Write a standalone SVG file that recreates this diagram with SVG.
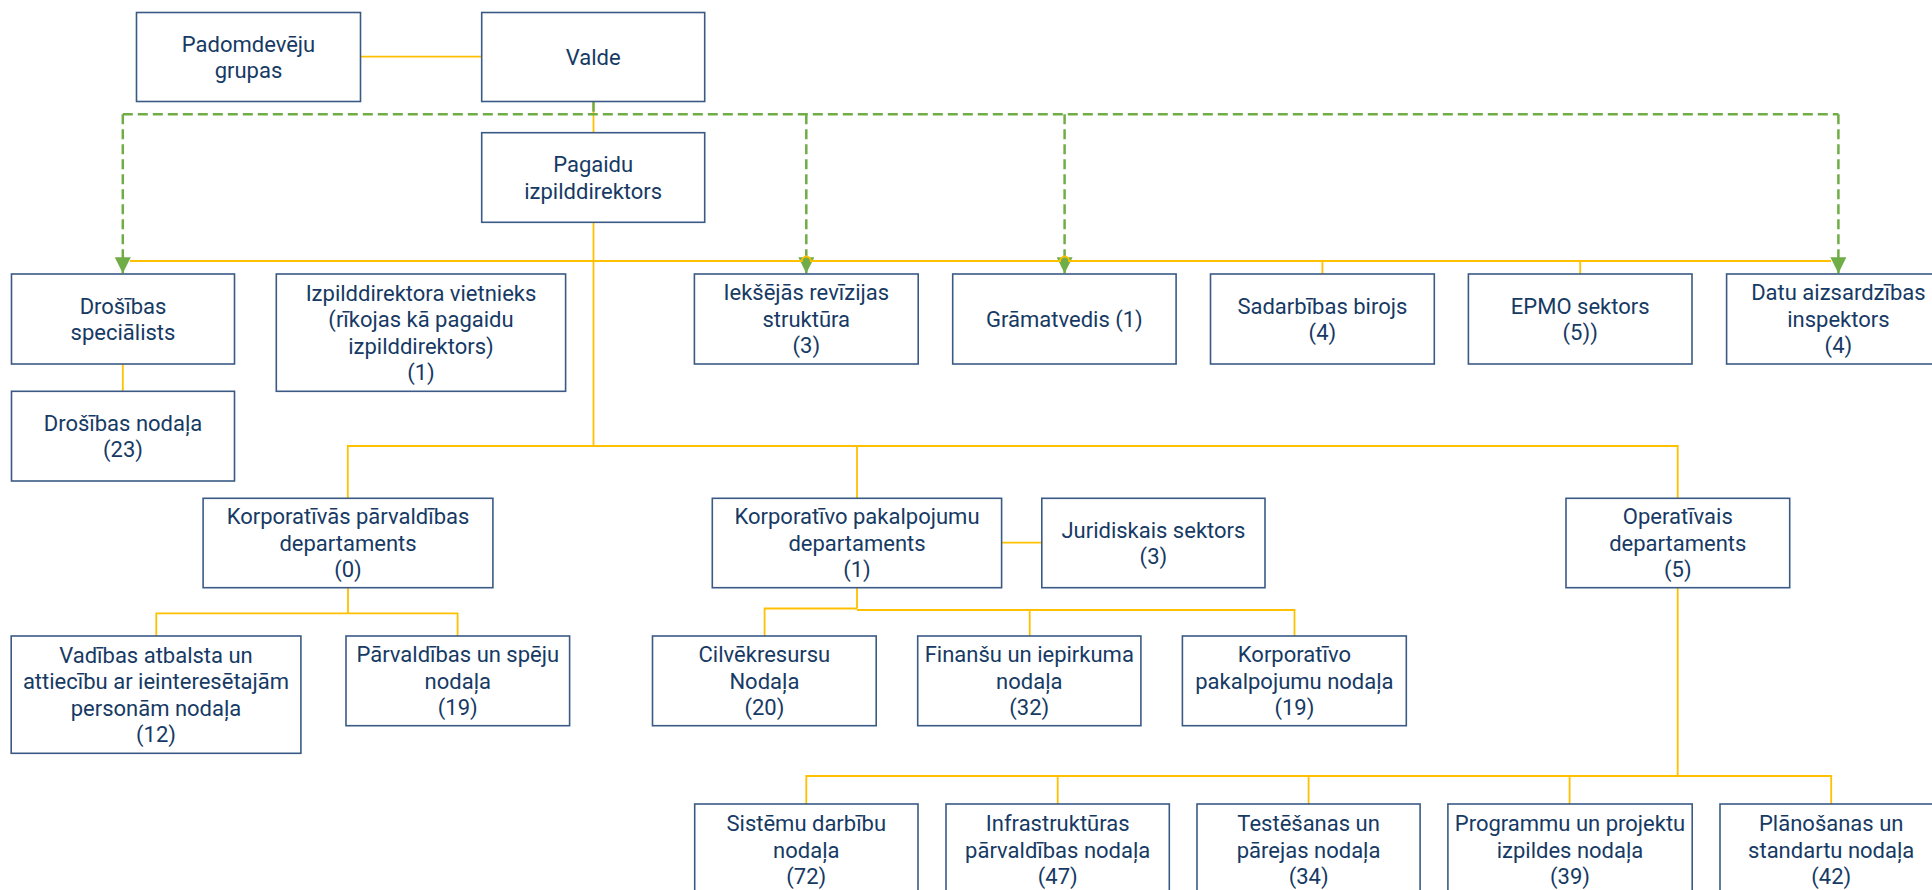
<svg xmlns="http://www.w3.org/2000/svg" width="1932" height="890" viewBox="0 0 1932 890">
<style>
.box{fill:#ffffff;stroke:#3A5A85;stroke-width:1.6}
.t{font-family:Roboto,"Liberation Sans",sans-serif;font-size:22px;fill:#163A64;text-anchor:middle}
.y{fill:none;stroke:#FFC000;stroke-width:1.8}
.g{fill:none;stroke:#70AD47;stroke-width:2.5;stroke-dasharray:10 5}
</style>
<defs>
<marker id="arr" markerUnits="userSpaceOnUse" viewBox="0 0 16 16" markerWidth="16" markerHeight="16" refX="16" refY="8" orient="auto">
<path d="M0,0 L16,8 L0,16 z" fill="#70AD47"/>
</marker>
</defs>
<rect width="1932" height="890" fill="#ffffff"/>
<g id="connectors">
<path class="y" d="M360.3,56.7 H481.7"/>
<path class="y" d="M593.5,101.7 V132.7"/>
<path class="y" d="M593.5,222.3 V446"/>
<path class="y" d="M1322.4,261 V274 M1580.2,261 V274"/>
<path class="y" d="M122.8,364 V391.3"/>
<path class="y" d="M347.8,498.3 V446 H1677.7 V498.3 M857,446 V498.3"/>
<path class="y" d="M348,587.7 V613.3 M156.3,636 V613.3 H457.6 V636"/>
<path class="y" d="M1001.6,542.7 H1041.8"/>
<path class="y" d="M857,587.7 V608.5 M764.6,636 V608.5 H857 M857,610 H1294.5 V636 M1029.7,610 V636"/>
<path class="y" d="M1677.7,587.7 V776 M806.3,804 V776 H1831.2 V804 M1057.7,776 V804 M1308.6,776 V804 M1569.6,776 V804"/>
<path class="g" d="M593.5,101.7 V114.3"/>
<path class="g" d="M122.8,114.3 H1838.4"/>
<path class="g" d="M122.8,114.3 V273.3" marker-end="url(#arr)"/>
<path class="g" d="M806.3,114.3 V273.3" marker-end="url(#arr)"/>
<path class="g" d="M1064.6,114.3 V273.3" marker-end="url(#arr)"/>
<path class="g" d="M1838.4,114.3 V273.3" marker-end="url(#arr)"/>
<path class="y" d="M130,261 H801.8 A4.5,4.5 0 0 1 810.8,261 H1060.1 A4.5,4.5 0 0 1 1069.1,261 H1831"/>
</g>
<g id="n-padomdeveju"><rect class="box" x="136.5" y="12.5" width="224" height="89"/><text class="t" x="248.5" y="51.5"><tspan x="248.5">Padomdevēju</tspan><tspan x="248.5" dy="26.5">grupas</tspan></text></g>
<g id="n-valde"><rect class="box" x="481.7" y="12.5" width="223" height="89"/><text class="t" x="593.2" y="64.8">Valde</text></g>
<g id="n-pagaidu"><rect class="box" x="481.7" y="132.7" width="223" height="89.6"/><text class="t" x="593.2" y="172"><tspan x="593.2">Pagaidu</tspan><tspan x="593.2" dy="26.5">izpilddirektors</tspan></text></g>
<g id="n-drosibas-spec"><rect class="box" x="11.5" y="274" width="223" height="90"/><text class="t" x="123" y="313.5"><tspan x="123">Drošības</tspan><tspan x="123" dy="26.5">speciālists</tspan></text></g>
<g id="n-vietnieks"><rect class="box" x="276.3" y="274" width="289.3" height="117.3"/><text class="t" x="421" y="300.7"><tspan x="421">Izpilddirektora vietnieks</tspan><tspan x="421" dy="26.5">(rīkojas kā pagaidu</tspan><tspan x="421" dy="26.5">izpilddirektors)</tspan><tspan x="421" dy="26.5">(1)</tspan></text></g>
<g id="n-revizija"><rect class="box" x="694.4" y="274" width="223.8" height="90"/><text class="t" x="806.3" y="300.3"><tspan x="806.3">Iekšējās revīzijas</tspan><tspan x="806.3" dy="26.5">struktūra</tspan><tspan x="806.3" dy="26.5">(3)</tspan></text></g>
<g id="n-gramatvedis"><rect class="box" x="952.7" y="274" width="223.4" height="90"/><text class="t" x="1064.4" y="326.8">Grāmatvedis (1)</text></g>
<g id="n-sadarbibas"><rect class="box" x="1210.5" y="274" width="223.8" height="90"/><text class="t" x="1322.4" y="313.5"><tspan x="1322.4">Sadarbības birojs</tspan><tspan x="1322.4" dy="26.5">(4)</tspan></text></g>
<g id="n-epmo"><rect class="box" x="1468.4" y="274" width="223.6" height="90"/><text class="t" x="1580.2" y="313.5"><tspan x="1580.2">EPMO sektors</tspan><tspan x="1580.2" dy="26.5">(5))</tspan></text></g>
<g id="n-datu"><rect class="box" x="1726.6" y="274" width="223.6" height="90"/><text class="t" x="1838.4" y="300.3"><tspan x="1838.4">Datu aizsardzības</tspan><tspan x="1838.4" dy="26.5">inspektors</tspan><tspan x="1838.4" dy="26.5">(4)</tspan></text></g>
<g id="n-drosibas-nodala"><rect class="box" x="11.5" y="391.3" width="223" height="89.7"/><text class="t" x="123" y="430.7"><tspan x="123">Drošības nodaļa</tspan><tspan x="123" dy="26.5">(23)</tspan></text></g>
<g id="n-korp-parv"><rect class="box" x="203.1" y="498.3" width="289.8" height="89.4"/><text class="t" x="348" y="524.3"><tspan x="348">Korporatīvās pārvaldības</tspan><tspan x="348" dy="26.5">departaments</tspan><tspan x="348" dy="26.5">(0)</tspan></text></g>
<g id="n-korp-pak"><rect class="box" x="712.3" y="498.3" width="289.3" height="89.4"/><text class="t" x="857" y="524.3"><tspan x="857">Korporatīvo pakalpojumu</tspan><tspan x="857" dy="26.5">departaments</tspan><tspan x="857" dy="26.5">(1)</tspan></text></g>
<g id="n-juridiskais"><rect class="box" x="1041.8" y="498.3" width="223.2" height="89.4"/><text class="t" x="1153.4" y="537.5"><tspan x="1153.4">Juridiskais sektors</tspan><tspan x="1153.4" dy="26.5">(3)</tspan></text></g>
<g id="n-operativais"><rect class="box" x="1566" y="498.3" width="223.7" height="89.4"/><text class="t" x="1677.8" y="524.3"><tspan x="1677.8">Operatīvais</tspan><tspan x="1677.8" dy="26.5">departaments</tspan><tspan x="1677.8" dy="26.5">(5)</tspan></text></g>
<g id="n-vadibas"><rect class="box" x="11.2" y="636" width="289.7" height="117.3"/><text class="t" x="156" y="662.7"><tspan x="156">Vadības atbalsta un</tspan><tspan x="156" dy="26.5">attiecību ar ieinteresētajām</tspan><tspan x="156" dy="26.5">personām nodaļa</tspan><tspan x="156" dy="26.5">(12)</tspan></text></g>
<g id="n-parvaldibas"><rect class="box" x="346" y="636" width="223.6" height="89.7"/><text class="t" x="457.8" y="662.2"><tspan x="457.8">Pārvaldības un spēju</tspan><tspan x="457.8" dy="26.5">nodaļa</tspan><tspan x="457.8" dy="26.5">(19)</tspan></text></g>
<g id="n-cilvekresursu"><rect class="box" x="652.5" y="636" width="223.7" height="89.7"/><text class="t" x="764.4" y="662.2"><tspan x="764.4">Cilvēkresursu</tspan><tspan x="764.4" dy="26.5">Nodaļa</tspan><tspan x="764.4" dy="26.5">(20)</tspan></text></g>
<g id="n-finansu"><rect class="box" x="917.7" y="636" width="223.2" height="89.7"/><text class="t" x="1029.3" y="662.2"><tspan x="1029.3">Finanšu un iepirkuma</tspan><tspan x="1029.3" dy="26.5">nodaļa</tspan><tspan x="1029.3" dy="26.5">(32)</tspan></text></g>
<g id="n-korp-pak-nodala"><rect class="box" x="1182.4" y="636" width="223.9" height="89.7"/><text class="t" x="1294.4" y="662.2"><tspan x="1294.4">Korporatīvo</tspan><tspan x="1294.4" dy="26.5">pakalpojumu nodaļa</tspan><tspan x="1294.4" dy="26.5">(19)</tspan></text></g>
<g id="n-sistemu"><rect class="box" x="694.7" y="804" width="223.3" height="92"/><text class="t" x="806.3" y="831.3"><tspan x="806.3">Sistēmu darbību</tspan><tspan x="806.3" dy="26.5">nodaļa</tspan><tspan x="806.3" dy="26.5">(72)</tspan></text></g>
<g id="n-infra"><rect class="box" x="946" y="804" width="223.3" height="92"/><text class="t" x="1057.7" y="831.3"><tspan x="1057.7">Infrastruktūras</tspan><tspan x="1057.7" dy="26.5">pārvaldības nodaļa</tspan><tspan x="1057.7" dy="26.5">(47)</tspan></text></g>
<g id="n-testesanas"><rect class="box" x="1197" y="804" width="223.1" height="92"/><text class="t" x="1308.6" y="831.3"><tspan x="1308.6">Testēšanas un</tspan><tspan x="1308.6" dy="26.5">pārejas nodaļa</tspan><tspan x="1308.6" dy="26.5">(34)</tspan></text></g>
<g id="n-programmu"><rect class="box" x="1447.9" y="804" width="244.3" height="92"/><text class="t" x="1570" y="831.3"><tspan x="1570">Programmu un projektu</tspan><tspan x="1570" dy="26.5">izpildes nodaļa</tspan><tspan x="1570" dy="26.5">(39)</tspan></text></g>
<g id="n-planosanas"><rect class="box" x="1720" y="804" width="222" height="92"/><text class="t" x="1831.2" y="831.3"><tspan x="1831.2">Plānošanas un</tspan><tspan x="1831.2" dy="26.5">standartu nodaļa</tspan><tspan x="1831.2" dy="26.5">(42)</tspan></text></g>
</svg>
